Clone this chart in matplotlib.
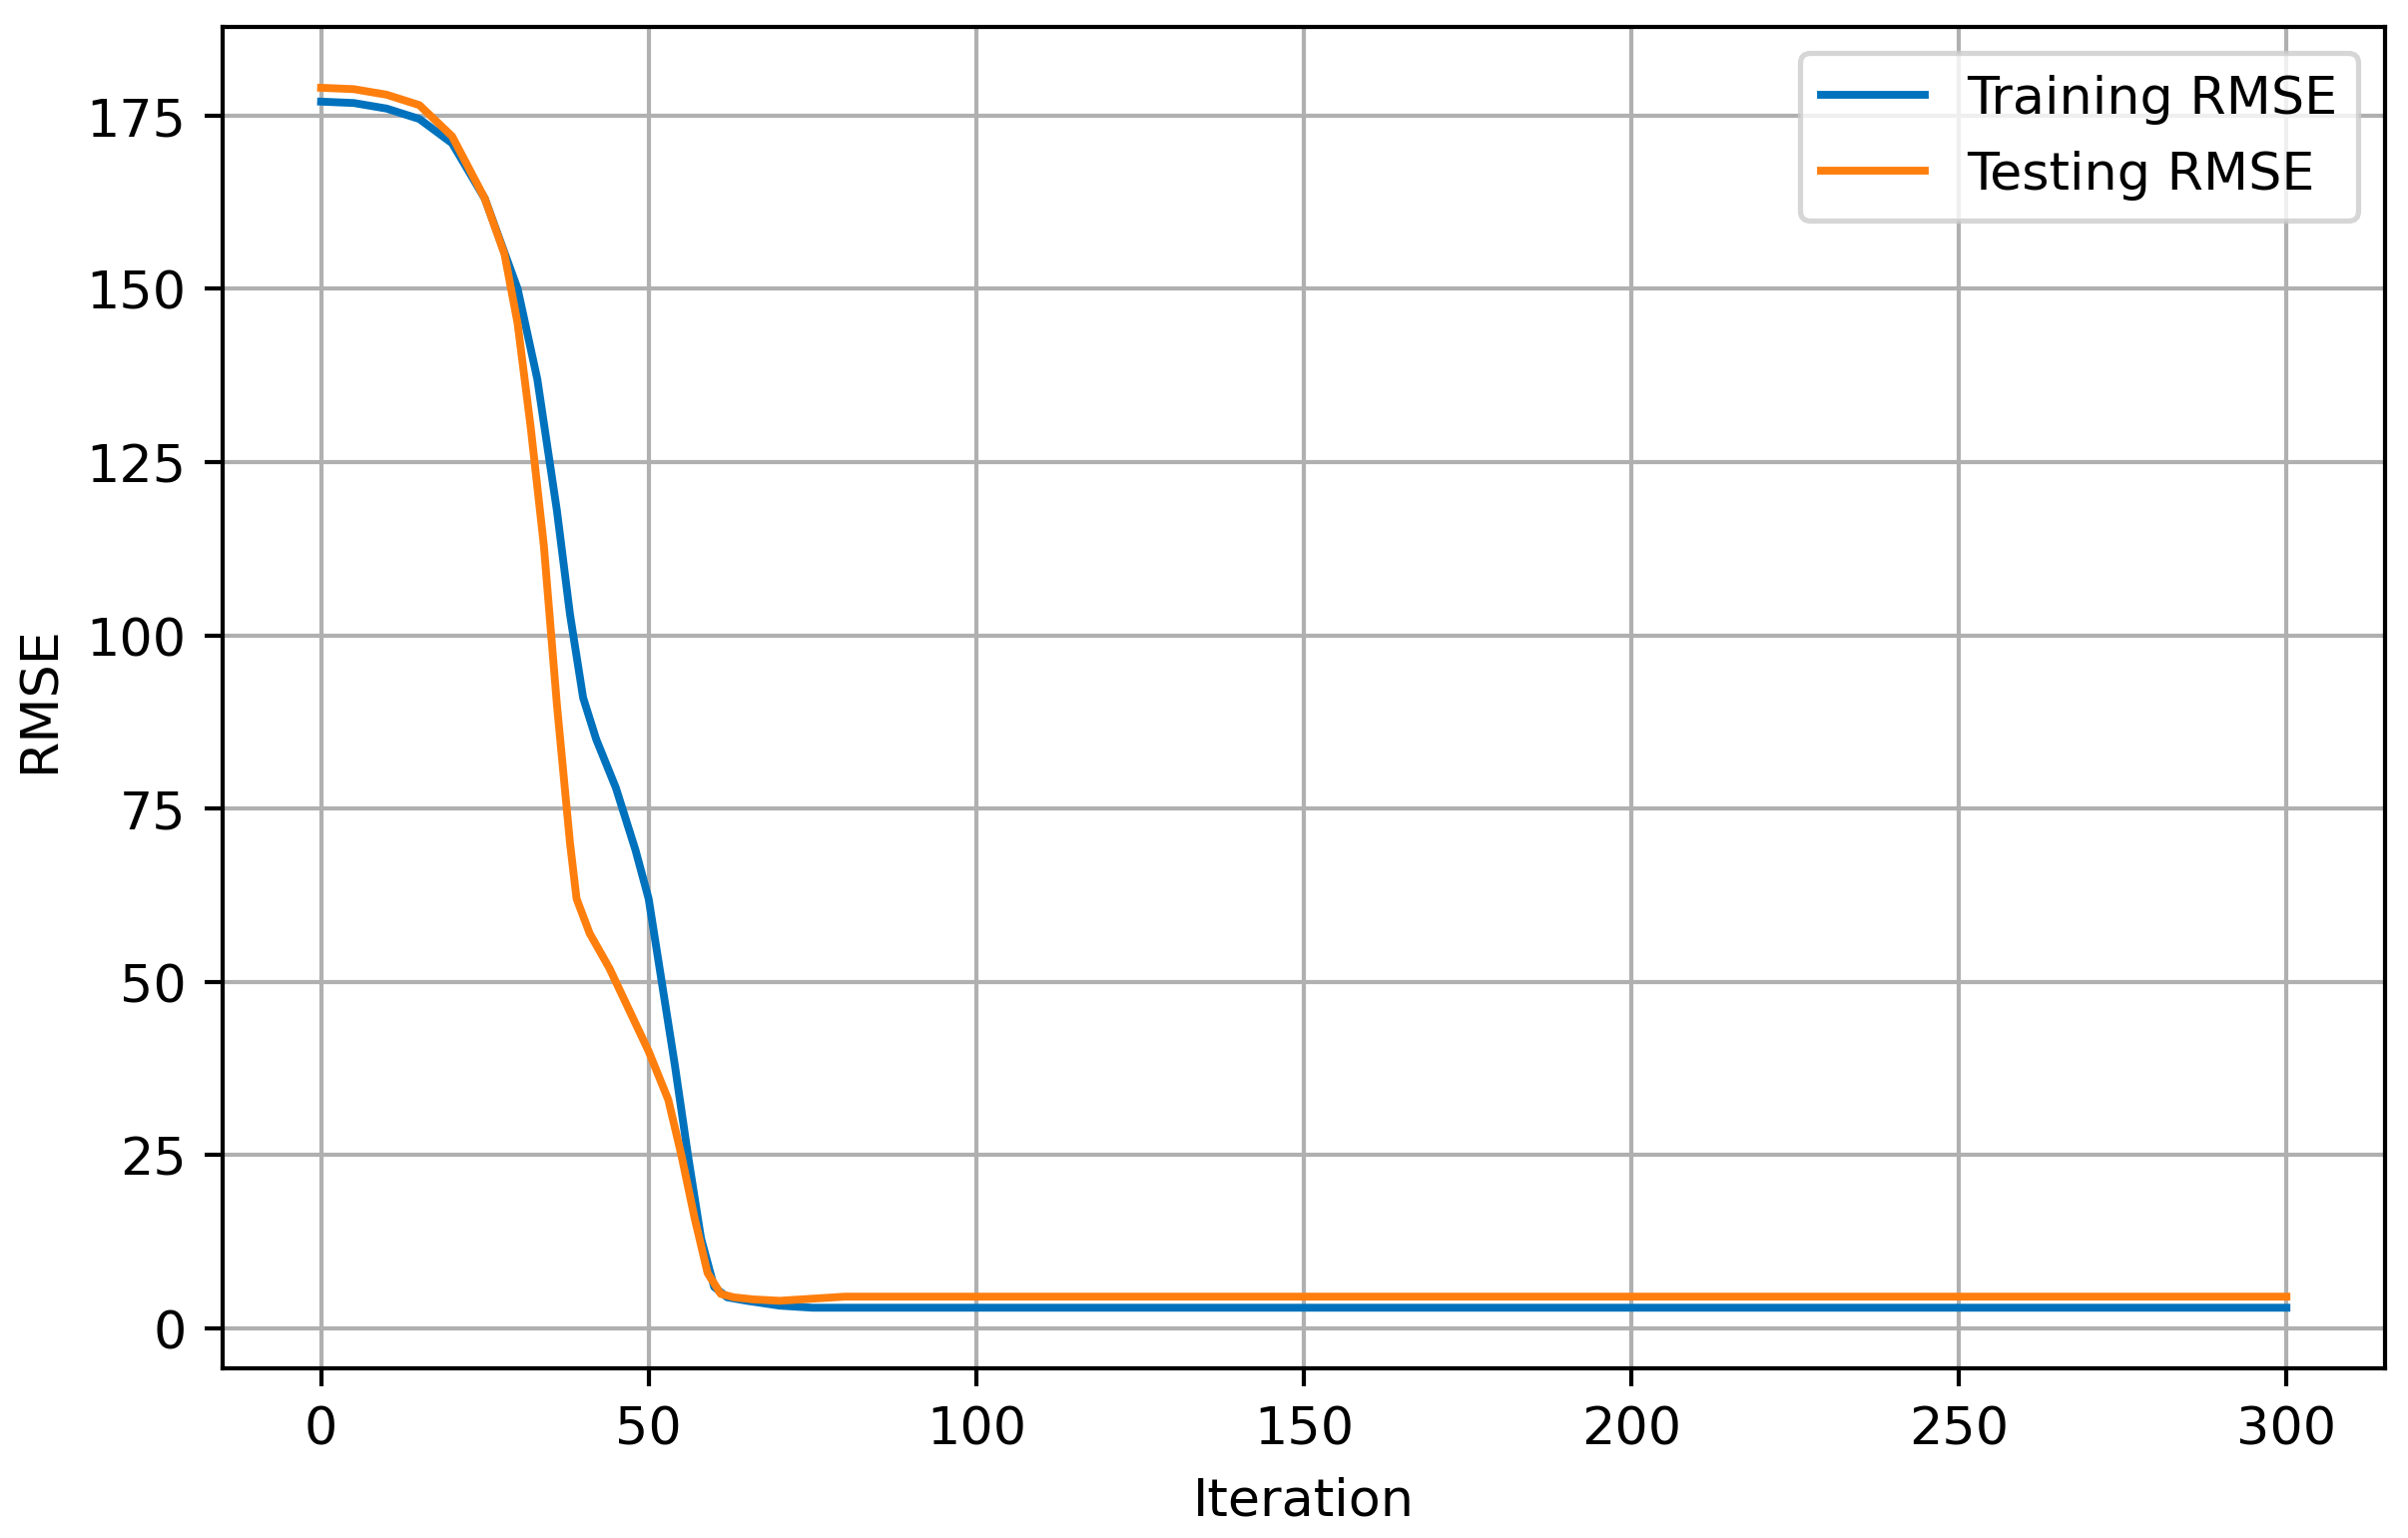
import matplotlib.pyplot as plt

# values
train_iter = [0, 5, 10, 15, 20, 25, 30, 33, 36, 38, 40, 42, 45, 48, 50, 52, 54, 56,
              58, 60, 62, 65, 70, 75, 100, 150, 200, 250, 300]
train_rmse = [177, 176.8, 176, 174.5, 171, 163, 150, 137, 118, 103, 91, 85, 78, 69,
              62, 50, 38, 25, 13, 6, 4.5, 4, 3.3, 3, 3, 3, 3, 3, 3]

test_iter = [0, 5, 10, 15, 20, 25, 28, 30, 32, 34, 36, 38, 39, 41, 44, 47, 50, 53,
             55, 57, 59, 61, 63, 66, 70, 75, 80, 100, 150, 200, 250, 300]
test_rmse = [179, 178.8, 178, 176.5, 172, 163, 155, 145, 130, 113, 90, 70, 62, 57,
             52, 46, 40, 33, 25, 16, 8, 5, 4.5, 4.2, 4, 4.3, 4.6, 4.6, 4.6, 4.6,
             4.6, 4.6]

fig, ax = plt.subplots(figsize=(6.4, 4.09))
ax.plot(train_iter, train_rmse, color="#0072bd", label="Training RMSE")
ax.plot(test_iter, test_rmse, color="#ff7f0e", label="Testing RMSE")
ax.set_xlabel("Iteration")
ax.set_ylabel("RMSE")
ax.set_yticks([0, 25, 50, 75, 100, 125, 150, 175])
ax.grid(True)
ax.legend(loc="upper right")
fig.subplots_adjust(left=0.0925, right=0.99, top=0.982, bottom=0.11)
fig.savefig("out.png", dpi=377)
